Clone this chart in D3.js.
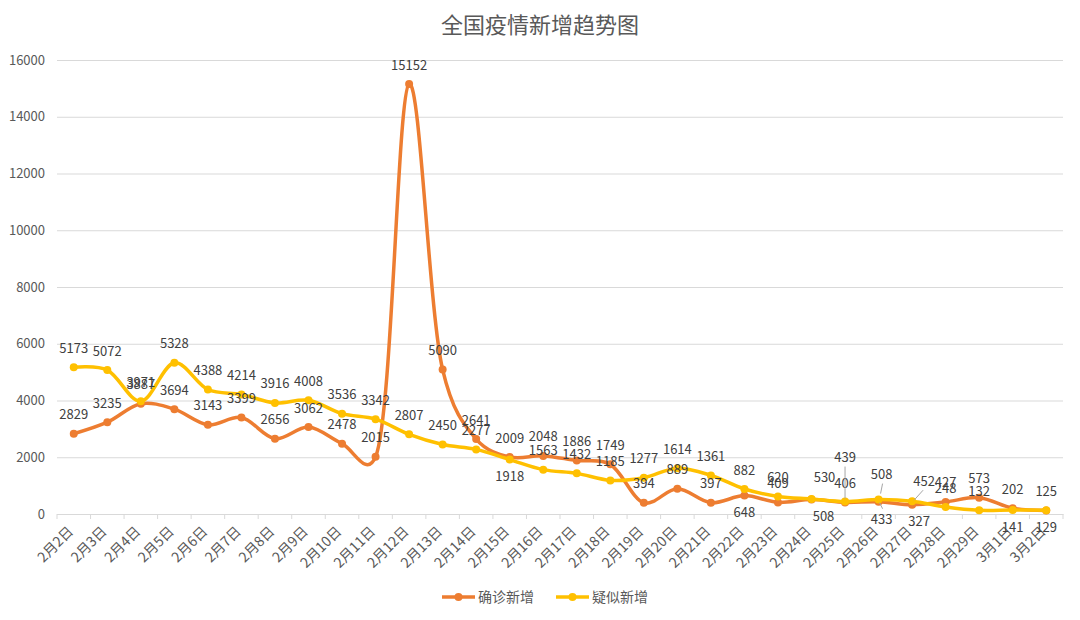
<!DOCTYPE html>
<html><head><meta charset="utf-8">
<script src="https://cdn.jsdelivr.net/npm/d3@7"></script>
<style>
html,body{margin:0;padding:0;background:#fff;}
text{font-family:"Microsoft YaHei","Noto Sans CJK SC","Noto Sans",sans-serif;}
</style></head>
<body>
<svg id="chart" width="1080" height="620"></svg>
<script>
const categories = ["2月2日","2月3日","2月4日","2月5日","2月6日","2月7日","2月8日","2月9日","2月10日","2月11日","2月12日","2月13日","2月14日","2月15日","2月16日","2月17日","2月18日","2月19日","2月20日","2月21日","2月22日","2月23日","2月24日","2月25日","2月26日","2月27日","2月28日","2月29日","3月1日","3月2日"];
const confirmed = [2829,3235,3887,3694,3143,3399,2656,3062,2478,2015,15152,5090,2641,2009,2048,1886,1749,394,889,397,648,409,508,406,433,327,427,573,202,125];
const suspected = [5173,5072,3971,5328,4388,4214,3916,4008,3536,3342,2807,2450,2277,1918,1563,1432,1185,1277,1614,1361,882,620,530,439,508,452,248,132,141,129];
const yTicks = [0,2000,4000,6000,8000,10000,12000,14000,16000];
const seriesNames = ["确诊新增","疑似新增"];
const colors = ["#ED7D31","#FFC000"];

// label placement (layout only)
const confirmedPos = categories.map(()=>"t");
confirmedPos[20]="b"; confirmedPos[22]="br"; confirmedPos[24]="bl"; confirmedPos[25]="b7";
const suspectedPos = categories.map(()=>"t");
suspectedPos[13]="b"; suspectedPos[28]="b"; suspectedPos[29]="b";
suspectedPos[22]="tr2"; suspectedPos[23]="tt"; suspectedPos[24]="tl"; suspectedPos[25]="tr";

const svg = d3.select("#chart");
const mL=57,mR=1063,mT=60,mB=514;

const x = d3.scaleBand().domain(categories).range([mL,mR]);
const cx = c => x(c)+x.bandwidth()/2;
const y = d3.scaleLinear().domain([0,16000]).range([mB,mT]);

// title
svg.append("text").attr("x",540).attr("y",33).attr("text-anchor","middle")
  .attr("font-size",22).attr("fill","#595959").text("全国疫情新增趋势图");

// gridlines + y labels
const yAxis = d3.axisLeft(y).tickValues(yTicks).tickSize(-(mR-mL)).tickPadding(12).tickFormat(d3.format("d"));
const gy = svg.append("g").attr("transform",`translate(${mL},0)`).call(yAxis);
gy.select(".domain").remove();
gy.selectAll(".tick line").attr("stroke","#d9d9d9").attr("stroke-width",1);
gy.selectAll(".tick text").attr("font-size",13).attr("fill","#595959").attr("x",-12);

// x axis
const xAxis = d3.axisBottom(x).tickSize(0).tickPadding(0);
const gx = svg.append("g").attr("transform",`translate(0,${mB})`).call(xAxis);
gx.select(".domain").attr("stroke","#d9d9d9");
gx.selectAll(".tick text").attr("font-size",14).attr("fill","#595959")
  .attr("text-anchor","end").attr("dy","0.35em")
  .attr("transform","translate(-3,15) rotate(-45)");
// boundary ticks
const bounds = categories.map(c=>x(c)).concat([mR]);
svg.append("g").selectAll("line").data(bounds).join("line")
  .attr("x1",d=>d).attr("x2",d=>d).attr("y1",mB).attr("y2",mB+5)
  .attr("stroke","#d9d9d9");

const series = [confirmed, suspected];
const positions = [confirmedPos, suspectedPos];
const line = d3.line().x((d,i)=>cx(categories[i])).y(d=>y(d)).curve(d3.curveCatmullRom.alpha(0.25));

series.forEach((vals,si)=>{
  svg.append("path").datum(vals).attr("d",line).attr("fill","none")
    .attr("stroke",colors[si]).attr("stroke-width",3.5).attr("stroke-linejoin","round");
  svg.append("g").selectAll("circle").data(vals).join("circle")
    .attr("cx",(d,i)=>cx(categories[i])).attr("cy",d=>y(d)).attr("r",4)
    .attr("fill",colors[si]);
});

const lg = svg.append("g");
series.forEach((vals,si)=>{
  vals.forEach((v,i)=>{
    const px=cx(categories[i]), py=y(v);
    const p=positions[si][i];
    let lx=px, ly=py-19, lead=null;
    if(p==="b"){ ly=py+17; }
    else if(p==="b7"){ lx=px+7; ly=py+17; }
    else if(p==="br"){ lx=px+12; ly=py+17; }
    else if(p==="tr2"){ lx=px+13; ly=py-22; }
    else if(p==="tt"){ ly=py-44; lead=[px,py-3,px,ly+9]; }
    else if(p==="tl"){ lx=px+3; ly=py-25; lead=[px+2,py-6,px+4,ly+9]; }
    else if(p==="tr"){ lx=px+12; ly=py-20; lead=[px+2,py-1,px+11,ly+9]; }
    else if(p==="bl"){ lx=px+3; ly=py+18; lead=[px+1,py+1,px+4,py+7]; }
    if(lead){
      lg.append("line").attr("x1",lead[0]).attr("y1",lead[1]).attr("x2",lead[2]).attr("y2",lead[3])
        .attr("stroke","#a6a6a6").attr("stroke-width",1);
    }
    lg.append("text").attr("x",lx).attr("y",ly).attr("dy","0.35em")
      .attr("text-anchor","middle").attr("font-size",13).attr("fill","#404040").text(v);
  });
});

// legend
const legendItems = [{x:442,name:seriesNames[0],c:colors[0]},{x:556,name:seriesNames[1],c:colors[1]}];
const lgd = svg.append("g");
legendItems.forEach(it=>{
  lgd.append("line").attr("x1",it.x).attr("x2",it.x+33).attr("y1",597).attr("y2",597)
    .attr("stroke",it.c).attr("stroke-width",3.5);
  lgd.append("circle").attr("cx",it.x+16.5).attr("cy",597).attr("r",4).attr("fill",it.c);
  lgd.append("text").attr("x",it.x+36).attr("y",597).attr("dy","0.35em")
    .attr("font-size",14).attr("fill","#595959").text(it.name);
});
</script>
</body></html>
